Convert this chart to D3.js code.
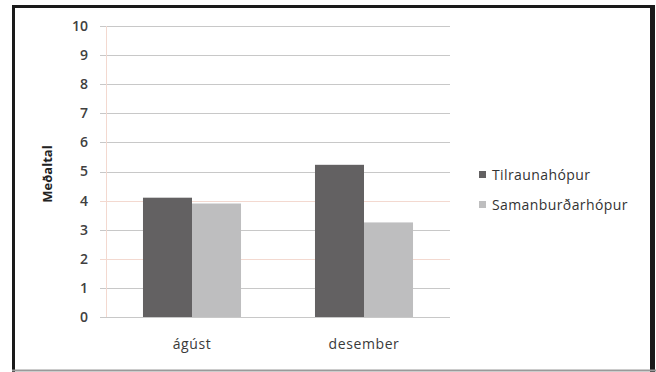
<!DOCTYPE html>
<html>
<head>
<meta charset="utf-8">
<script src="https://cdn.jsdelivr.net/npm/d3@7"></script>
<style>
  html, body { margin: 0; padding: 0; background: #fff; }
  svg { display: block; }
</style>
</head>
<body>
<svg id="chart" width="656" height="372"></svg>
<script>
// Mean scores per month for the two groups
const categories = ["ágúst", "desember"];
const seriesNames = ["Tilraunahópur", "Samanburðarhópur"];
const tilraunahopur = [4.1, 5.23];
const samanburdarhopur = [3.9, 3.25];
const yTicks = [0, 1, 2, 3, 4, 5, 6, 7, 8, 9, 10];
const seriesColors = ["#636162", "#bebebf"];

const series = [tilraunahopur, samanburdarhopur];
const svg = d3.select("#chart");
const font = "'Open Sans', 'DejaVu Sans', sans-serif";

// outer frame
svg.append("rect").attr("x", 0).attr("y", 0).attr("width", 656).attr("height", 372).attr("fill", "#fff");
svg.append("line").attr("x1", 13.5).attr("x2", 13.5).attr("y1", 5).attr("y2", 372)
  .attr("stroke", "#1a1a1a").attr("stroke-width", 3);
svg.append("line").attr("x1", 12).attr("x2", 654).attr("y1", 6.5).attr("y2", 6.5)
  .attr("stroke", "#1a1a1a").attr("stroke-width", 3);
svg.append("line").attr("x1", 652.5).attr("x2", 652.5).attr("y1", 5).attr("y2", 372)
  .attr("stroke", "#1a1a1a").attr("stroke-width", 5);
svg.append("line").attr("x1", 12).attr("x2", 656).attr("y1", 370.5).attr("y2", 370.5)
  .attr("stroke", "#9a9a9a").attr("stroke-width", 2);

const plot = { left: 106, right: 450, top: 26, bottom: 317 };

const y = d3.scaleLinear().domain([0, 10]).range([plot.bottom, plot.top]);
const x0 = d3.scaleBand().domain(categories).range([plot.left, plot.right]).paddingInner(0.43).paddingOuter(0.215);
const x1 = d3.scaleBand().domain(d3.range(seriesNames.length)).range([0, x0.bandwidth()]);

// gridlines
const grid = svg.append("g");
grid.selectAll("line").data(yTicks).join("line")
  .attr("x1", plot.left - 6).attr("x2", plot.right)
  .attr("y1", d => Math.round(y(d)) + 0.5).attr("y2", d => Math.round(y(d)) + 0.5)
  .attr("stroke", d => (d === 2 || d === 4) ? "#f3d9d0" : "#c8c8c8")
  .attr("stroke-width", 1);

// value axis line
svg.append("line").attr("x1", plot.left + 0.5).attr("x2", plot.left + 0.5)
  .attr("y1", plot.top).attr("y2", plot.bottom)
  .attr("stroke", "#f3d9d0").attr("stroke-width", 1);

// y axis labels
const yAxis = d3.axisLeft(y).tickValues(yTicks).tickSize(0).tickPadding(18);
const yg = svg.append("g").attr("transform", `translate(${plot.left},0)`).call(yAxis);
yg.select(".domain").remove();
yg.selectAll("text").attr("font-family", font).attr("font-size", 14).attr("font-weight", 600)
  .attr("fill", "#404040");

// bars
const groups = svg.append("g").selectAll("g").data(categories).join("g")
  .attr("transform", d => `translate(${x0(d)},0)`);
groups.selectAll("rect").data((d, i) => series.map((s, k) => ({ k, v: s[i] }))).join("rect")
  .attr("x", d => x1(d.k))
  .attr("y", d => y(d.v))
  .attr("width", x1.bandwidth())
  .attr("height", d => y(0) - y(d.v))
  .attr("fill", d => seriesColors[d.k]);

// category axis
const xAxis = d3.axisBottom(x0).tickSize(0).tickPadding(22);
const xg = svg.append("g").attr("transform", `translate(0,${plot.bottom})`).call(xAxis);
xg.select(".domain").remove();
xg.selectAll("text").attr("font-family", font).attr("font-size", 14).attr("fill", "#3a3a3a")
  .attr("letter-spacing", 0.6);

// y axis title
svg.append("text")
  .attr("transform", `translate(52,174) rotate(-90)`)
  .attr("text-anchor", "middle")
  .attr("font-family", font).attr("font-size", 13).attr("font-weight", 700)
  .attr("fill", "#222")
  .text("Meðaltal");

// legend
const legend = svg.append("g").attr("transform", "translate(479,171)");
const items = legend.selectAll("g").data(seriesNames).join("g")
  .attr("transform", (d, i) => `translate(0,${i * 30})`);
items.append("rect").attr("width", 7).attr("height", 7).attr("fill", (d, i) => seriesColors[i]);
items.append("text").attr("x", 13).attr("y", 8.5)
  .attr("font-family", font).attr("font-size", 14).attr("fill", "#333")
  .attr("letter-spacing", 0.4)
  .text(d => d);
</script>
</body>
</html>
